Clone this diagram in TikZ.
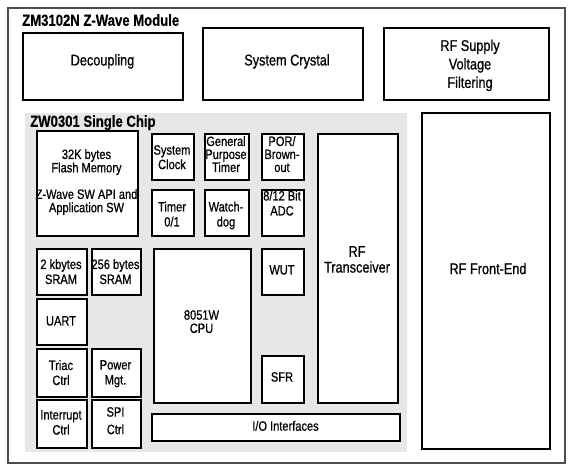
\documentclass[tikz,border=0pt]{standalone}
\usepackage{fontspec}
\setmainfont[FakeStretch=0.82, UprightFeatures={FakeBold=0.7}, BoldFeatures={FakeBold=0.4}]{Liberation Sans}
\usetikzlibrary{shadows}
\definecolor{chipgray}{HTML}{E6E7E8}
\definecolor{framegray}{HTML}{4D4D4D}
\tikzset{
  blk/.style={draw=black, line width=1.5pt, fill=white, inner sep=0pt,
    drop shadow={shadow xshift=1.2pt, shadow yshift=-1.2pt, fill=black!45, opacity=1}},
  txt/.style={inner sep=0pt, align=center, anchor=north},
  sm/.style={font=\fontsize{13.5}{#1}\selectfont},
  lg/.style={font=\fontsize{15.5}{#1}\selectfont},
  ttl/.style={inner sep=0pt, anchor=north west, font=\fontsize{16}{18}\selectfont\bfseries}
}
\newcommand\blk[5]{\node[blk,anchor=north west,minimum width=#4pt-#2pt,minimum height=#5pt-#3pt] (#1) at (#2,#3) {};}
\begin{document}
\begin{tikzpicture}[x=1pt,y=-1pt]
\useasboundingbox (0,0) rectangle (572,471);
% outer module frame
\node[draw=framegray, line width=2pt, anchor=north west, inner sep=0pt,
  minimum width=557pt, minimum height=455pt] (module) at (7,7) {};
\node[ttl] (moduletitle) at (22,14) {ZM3102N Z-Wave Module};
% top row
\blk{dec}{22}{32}{182}{99}
\blk{xtal}{202}{27}{362}{99}
\blk{rfs}{383}{27}{548}{99}
\node[txt,lg=18] (dect) at (102.5,54) {Decoupling};
\node[txt,lg=18] (xtalt) at (287,54) {System Crystal};
\node[txt,lg=18.5] (rfst) at (470,39.5) {RF Supply\\Voltage\\Filtering};
% chip area
\node[fill=chipgray, anchor=north west, inner sep=0pt,
  minimum width=382pt, minimum height=339pt] (chip) at (25,113) {};
\node[ttl] (chiptitle) at (30,115) {ZW0301 Single Chip};
% RF front end
\blk{rffe}{421}{112}{549}{448}
\node[txt,lg=18] (rffet) at (488,262.7) {RF Front-End};
% chip blocks
\blk{flash}{36}{130}{137}{235}
\blk{clk}{151}{133}{193}{179}
\blk{gpt}{204}{133}{248}{179}
\blk{por}{261}{133}{303}{179}
\blk{tmr}{151}{189}{193}{235}
\blk{wdg}{204}{189}{248}{235}
\blk{adc}{261}{189}{303}{235}
\blk{rftr}{317}{133}{397}{402}
\blk{sramA}{36}{248}{86}{294}
\blk{sramB}{91}{248}{140}{294}
\blk{uart}{36}{298}{86}{344}
\blk{triac}{36}{348}{86}{396}
\blk{pwr}{91}{348}{140}{396}
\blk{intr}{36}{399}{86}{447}
\blk{spi}{91}{399}{140}{447}
\blk{cpu}{153}{248}{250}{402}
\blk{wut}{261}{248}{303}{294}
\blk{sfr}{261}{355}{303}{402}
\blk{io}{151}{413}{399}{440}
% texts
\node[txt,sm=13.3] (flasht) at (86.5,149) {32K bytes\\Flash Memory\\[13.3pt]Z-Wave SW API and\\Application SW};
\node[txt,sm=14.5] (clkt) at (172,145) {System\\Clock};
\node[txt,sm=13] (gptt) at (226,136) {General\\Purpose\\Timer};
\node[txt,sm=13] (port) at (282,136) {POR/\\Brown-\\out};
\node[txt,sm=15] (tmrt) at (172,201.5) {Timer\\0/1};
\node[txt,sm=15] (wdgt) at (226,201.5) {Watch-\\dog};
\node[txt,sm=15] (adct) at (282,190.5) {8/12 Bit\\ADC};
\node[txt,lg=15.7] (rftrt) at (357,246) {RF\\Transceiver};
\node[txt,sm=15] (sramAt) at (61,259) {2 kbytes\\SRAM};
\node[txt,sm=15] (sramBt) at (115.5,259) {256 bytes\\SRAM};
\node[txt,sm=15] (uartt) at (61,316) {UART};
\node[txt,sm=15] (triact) at (61,360) {Triac\\Ctrl};
\node[txt,sm=15] (pwrt) at (115.5,360) {Power\\Mgt.};
\node[txt,sm=15] (intrt) at (61,410) {Interrupt\\Ctrl};
\node[txt,sm=17.5] (spit) at (115.5,407) {SPI\\Ctrl};
\node[txt,sm=13.3] (cput) at (201.5,310) {8051W\\CPU};
\node[txt,sm=15] (wutt) at (282,265) {WUT};
\node[txt,sm=15] (sfrt) at (282,372) {SFR};
\node[txt,sm=15] (iot) at (285.5,420.7) {I/O Interfaces};
\end{tikzpicture}
\end{document}
